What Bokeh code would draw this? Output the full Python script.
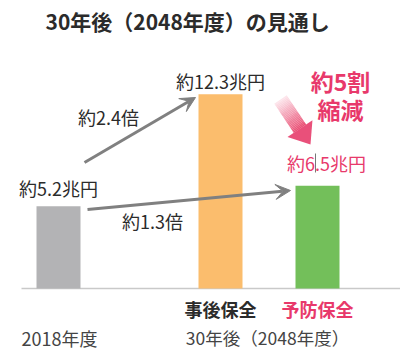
from bokeh.plotting import figure
from bokeh.models import Range1d, Arrow, VeeHead
from bokeh.core.properties import value
from bokeh.embed import file_html
from bokeh.resources import INLINE
import numpy as np

# ---- data ----
title_text = "30年後（2048年度）の見通し"
categories = ["2018年度", "事後保全", "予防保全"]
values = [5.2, 12.3, 6.5]
value_labels = ["約5.2兆円", "約12.3兆円", "約6.5兆円"]
ratio_labels = ["約2.4倍", "約1.3倍"]
period_labels = ["2018年度", "30年後（2048年度）"]
callout_lines = ["約5割", "縮減"]

# ---- layout helpers ----
W, H = 400, 352
BASE = 288.0
PX = 15.8
def Y(py):
    return (BASE - py) / PX

FONT = value("Noto Sans CJK JP")
PINK = "#e8396b"
DARK = "#2b2b2b"

p = figure(width=W, height=H, x_range=Range1d(0, W), y_range=Range1d(Y(H), Y(0)),
           output_backend="svg", toolbar_location=None, min_border=0)
p.axis.visible = False
p.grid.visible = False
p.outline_line_color = None
p.background_fill_color = "white"
p.border_fill_color = "white"

# baseline
p.segment(x0=[21], y0=[0], x1=[400], y1=[0], line_color="#c9c9c9", line_width=1.5)

# bars
bar_x = [58, 220, 317]
bar_colors = ["#b3b3b5", "#fbbd6d", "#73bf5a"]
p.vbar(x=bar_x, top=values, bottom=0, width=44, fill_color=bar_colors, line_color=None)

# value labels
lab_x = [58, 220, 326]
lab_off = [18, 13, 23]
lab_colors = [DARK, DARK, PINK]
for i in range(3):
    p.text(x=[lab_x[i]], y=[values[i] + lab_off[i] / PX], text=[value_labels[i]],
           text_font=FONT, text_font_size="18px", text_color=lab_colors[i],
           text_align="center", text_baseline="middle")

# cursor artifact
p.segment(x0=[315], y0=[Y(153)], x1=[315], y1=[Y(172)], line_color="#777777", line_width=1)

# gray arrows
GRAY = "#808080"
p.add_layout(Arrow(x_start=84, y_start=Y(162), x_end=195, y_end=Y(97), line_color=GRAY, line_width=3,
                   end=VeeHead(size=15, fill_color=GRAY, line_color=GRAY)))
p.add_layout(Arrow(x_start=87, y_start=Y(209), x_end=290, y_end=Y(190), line_color=GRAY, line_width=3,
                   end=VeeHead(size=15, fill_color=GRAY, line_color=GRAY)))

# ratio labels
p.text(x=[108], y=[Y(116)], text=[ratio_labels[0]], text_font=FONT, text_font_size="18px",
       text_color=DARK, text_align="center", text_baseline="middle")
p.text(x=[152], y=[Y(220)], text=[ratio_labels[1]], text_font=FONT, text_font_size="18px",
       text_color=DARK, text_align="center", text_baseline="middle")

# pink gradient arrow (pixel geometry)
start = np.array([280.0, 99.0])
tip = np.array([310.0, 144.0])
d = tip - start
L = np.hypot(*d)
u = d / L
n = np.array([-u[1], u[0]])
head_len = 19.0
shaft_hw = 7.5
head_hw = 15.0
base_c = tip - u * head_len
c0 = np.array([253, 232, 238]) / 255.0
c1 = np.array([233, 78, 115]) / 255.0
N = 24
xs_list, ys_list, cols = [], [], []
for k in range(N):
    a = start + (base_c - start) * (k / N)
    b = start + (base_c - start) * ((k + 1.05) / N)
    pts = [a + n * shaft_hw, b + n * shaft_hw, b - n * shaft_hw, a - n * shaft_hw]
    xs_list.append([q[0] for q in pts])
    ys_list.append([Y(q[1]) for q in pts])
    t = (k + 0.5) / N
    c = c0 + (c1 - c0) * t
    cols.append("#%02x%02x%02x" % tuple(int(round(v * 255)) for v in c))
p.patches(xs=xs_list, ys=ys_list, fill_color=cols, line_color=None)
hp = [base_c + n * head_hw, tip, base_c - n * head_hw]
p.patch(x=[q[0] for q in hp], y=[Y(q[1]) for q in hp], fill_color="#e9507a", line_color=None)

# callout
p.text(x=[340, 340], y=[Y(80), Y(108)], text=callout_lines, text_font=FONT, text_font_size="23px",
       text_font_style="bold", text_color=PINK, text_align="center", text_baseline="middle")

# category labels
p.text(x=[220], y=[Y(308)], text=[categories[1]], text_font=FONT, text_font_size="18px",
       text_font_style="bold", text_color=DARK, text_align="center", text_baseline="middle")
p.text(x=[317], y=[Y(308)], text=[categories[2]], text_font=FONT, text_font_size="18px",
       text_font_style="bold", text_color=PINK, text_align="center", text_baseline="middle")

# period labels
p.text(x=[21], y=[Y(337)], text=[period_labels[0]], text_font=FONT, text_font_size="18px",
       text_color="#444444", text_align="left", text_baseline="middle")
p.text(x=[267], y=[Y(337)], text=[period_labels[1]], text_font=FONT, text_font_size="17.5px",
       text_color="#444444", text_align="center", text_baseline="middle")

# title
p.text(x=[45], y=[Y(20)], text=[title_text], text_font=FONT, text_font_size="21px",
       text_font_style="bold", text_color=DARK, text_align="left", text_baseline="middle")

open("out.html", "w").write(file_html(p, INLINE))
